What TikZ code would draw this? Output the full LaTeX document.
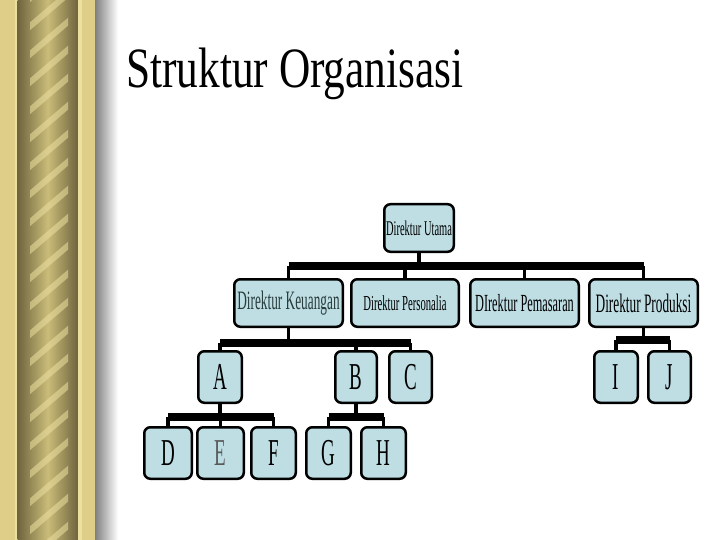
\documentclass[tikz,border=0pt]{standalone}
\usepackage{fontspec}
\setmainfont{Liberation Serif}
\newfontfamily\titlefont[FakeStretch=0.76]{Liberation Serif}
\newfontfamily\boxfont[FakeStretch=0.5]{Liberation Serif}
\usepackage{tikz}
\usetikzlibrary{positioning}
\usepackage{xcolor}
\definecolor{boxblue}{RGB}{190,222,228}
\definecolor{goldlight}{RGB}{222,206,136}
\definecolor{goldpale}{RGB}{236,224,160}
\definecolor{golddark}{RGB}{110,100,62}
\definecolor{goldmid}{RGB}{202,188,120}
\definecolor{tealgray}{RGB}{40,60,60}

\begin{document}
\begin{tikzpicture}[x=1pt, y=-1pt,
    unit/.style = {rectangle, draw=black, fill=boxblue, line width=2.5pt, rounded corners=6pt, inner sep=0pt, minimum height=47.5pt, text=black},
    letter/.style = {unit, minimum height=51.5pt, font=\boxfont\fontsize{38}{38}\selectfont},
    lbl/.style = {font=\boxfont\fontsize{#1}{#1}\selectfont},
    bar/.style = {draw=black, line width=8pt},
    stem/.style = {draw=black, line width=3.5pt}
]
\useasboundingbox (0,0) rectangle (720,540);
\fill[white] (0,0) rectangle (720,540);

% gold column on the left
\fill[goldlight] (0,0) rectangle (16,540);
\fill[goldpale] (15,0) rectangle (17.5,540);
\shade[left color=golddark, right color=golddark, middle color=goldmid] (17.5,0) rectangle (78,540);
\begin{scope}
\clip (30,0) rectangle (68,540);
\foreach \y in {0,28,...,588}
    \draw[goldpale, line width=6pt, opacity=0.55] (28,\y) -- (70,\y-36);
\end{scope}
\fill[goldpale] (78,0) rectangle (82,540);
\fill[goldlight] (82,0) rectangle (95,540);
\shade[left color=black!50, right color=white] (95,0) rectangle (118,540);

\node (title) [anchor=base west, inner sep=0pt, font=\titlefont\fontsize{57}{57}\selectfont] at (126,88) {Struktur Organisasi};

% directors
\node (utama) [unit, lbl=20.9, minimum width=69.5pt] at (419,228) {Direktur Utama};
\node (keu) [unit, lbl=26.6, minimum width=108.5pt, text=tealgray] at (288.5,303) {Direktur Keuangan};
\node (pers) [unit, lbl=21.3, minimum width=107.5pt] at (405,303) {Direktur Personalia};
\node (pem) [unit, lbl=24.6, minimum width=108.5pt] at (524.5,303) {DIrektur Pemasaran};
\node (prod) [unit, lbl=26.6, minimum width=108.5pt] at (643.5,303) {Direktur Produksi};

% units
\node (a) [letter, minimum width=43.5pt] at (220,377) {A};
\node (b) [letter, minimum width=41.5pt] at (356,377) {B};
\node (c) [letter, minimum width=42.5pt] at (410.5,377) {C};
\node (i) [letter, minimum width=43.5pt] at (616,377) {I};
\node (j) [letter, minimum width=42.5pt] at (669.5,377) {J};
\node (d) [letter, minimum width=47.5pt] at (168,453) {D};
\node (e) [letter, minimum width=46.5pt, text=black!65] at (220.5,453) {E};
\node (f) [letter, minimum width=44.5pt] at (273.5,453) {F};
\node (g) [letter, minimum width=44.5pt] at (328.5,453) {G};
\node (h) [letter, minimum width=44.5pt] at (383.5,453) {H};

\coordinate (bar1) at (0,265.5);
\coordinate (bar2) at (0,342.5);
\coordinate (bar3) at (0,339.5);
\coordinate (bar4) at (0,417);

\draw [stem] (utama.south) -- (utama.south |- bar1);
\foreach \n in {keu,pers,pem,prod}
    \draw [stem] (\n.north) -- (\n.north |- bar1);
\draw [bar] (keu.north |- bar1) -- (prod.north |- bar1);

\draw [stem] (keu.south) -- (keu.south |- bar2);
\foreach \n in {a,b,c}
    \draw [stem] (\n.north) -- (\n.north |- bar2);
\draw [bar] (a.north |- bar2) -- (c.north |- bar2);

\draw [stem] (prod.south) -- (prod.south |- bar3);
\foreach \n in {i,j}
    \draw [stem] (\n.north) -- (\n.north |- bar3);
\draw [bar] (i.north |- bar3) -- (j.north |- bar3);

\draw [stem] (a.south) -- (a.south |- bar4);
\foreach \n in {d,e,f}
    \draw [stem] (\n.north) -- (\n.north |- bar4);
\draw [bar] (d.north |- bar4) -- (f.north |- bar4);

\draw [stem] (b.south) -- (b.south |- bar4);
\foreach \n in {g,h}
    \draw [stem] (\n.north) -- (\n.north |- bar4);
\draw [bar] (g.north |- bar4) -- (h.north |- bar4);
\end{tikzpicture}
\end{document}
